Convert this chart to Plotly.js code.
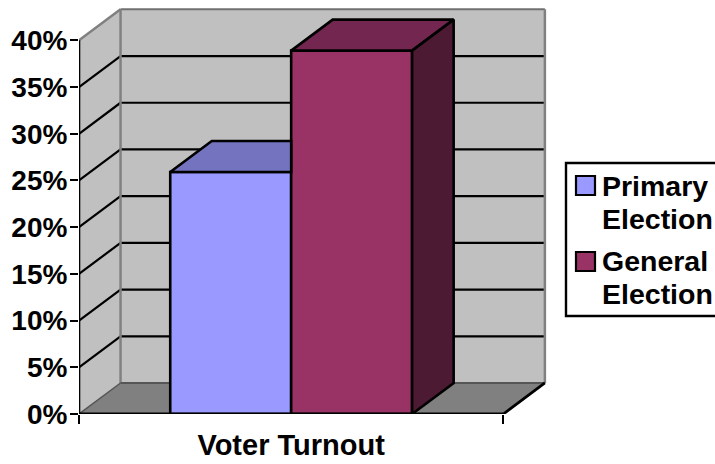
<!DOCTYPE html>
<html>
<head>
<meta charset="utf-8">
<script src="https://cdn.plot.ly/plotly-3.0.1.min.js"></script>
<style>html,body{margin:0;padding:0;background:#fff;overflow:hidden}</style>
</head>
<body>
<div id="chart" style="width:715px;height:464px"></div>
<script>
const categoryLabel = 'Voter Turnout';
const seriesNames = [['Primary', 'Election'], ['General', 'Election']];
const seriesColors = ['#9999ff', '#993366'];
const primaryTurnout = [25.9];
const generalTurnout = [38.9];
const yTickValues = [0, 5, 10, 15, 20, 25, 30, 35, 40];
const yTickLabels = ['0%', '5%', '10%', '15%', '20%', '25%', '30%', '35%', '40%'];

const FONT = '"Liberation Sans", Arial, sans-serif';
const W = 715, H = 464, mL = 79, mR = 715 - 547, mT = 7, mB = 50;
const L = -0.5, R = 0.5;            // front edge of the category axis
const DX = 0.0979, DY = 3.32;       // oblique depth in data units
const G = 0.57;                     // width of the bar group
const yTop = 40, padY = 0.25, padX = 0.005;
const T = '#c0c0c0', FLOOR = '#808080', EDGE = '#808080';
const px = v => (v - mL) / (W - mL - mR);
const py = v => (H - mB - v) / (H - mT - mB);

function seg(x0, y0, x1, y1, color, width) {
  return {type:'line', layer:'below', xref:'x', yref:'y', x0, y0, x1, y1, line:{color, width}};
}
function poly(pts, fill) {
  return {type:'path', layer:'below', xref:'x', yref:'y', fillcolor:fill, line:{width:0},
    path:'M' + pts.map(p => p[0] + ',' + p[1]).join('L') + 'Z'};
}
const shapes = [
  poly([[L,0],[L+DX,DY],[L+DX,yTop+DY],[L,yTop]], T),
  poly([[L+DX,DY],[R+DX,DY],[R+DX,yTop+DY],[L+DX,yTop+DY]], T),
  poly([[L,0],[L+DX,DY],[R+DX,DY],[R,0]], FLOOR)
];
yTickValues.slice(1, -1).forEach(v => {
  shapes.push(seg(L, v, L+DX, v+DY, '#000', 2.2));
  shapes.push(seg(L+DX, v+DY, R+DX, v+DY, '#000', 2.2));
});
shapes.push(seg(L, yTop, L+DX, yTop+DY, EDGE, 2.5));
shapes.push(seg(L+DX, yTop+DY, R+DX, yTop+DY, '#707070', 2));
shapes.push(seg(L+DX, DY, L+DX, yTop+DY, EDGE, 2.5));
shapes.push(seg(R+DX, DY, R+DX, yTop+DY, EDGE, 2.5));
shapes.push(seg(L+DX, DY, R+DX, DY, '#555', 2));
shapes.push(seg(L, 0, L+DX, DY, '#555', 1.5));

// legend frame and swatches
function paperRect(x0, y0, x1, y1, fill, width) {
  return {type:'rect', layer:'above', xref:'paper', yref:'paper',
    x0:px(x0), x1:px(x1), y0:py(y0), y1:py(y1), fillcolor:fill, line:{color:'#000', width}};
}
shapes.push(paperRect(566, 163, 725, 316, '#fff', 2.4));
const swatchTop = [176, 252], lineCenter = [[186, 219], [261, 294]];
const annotations = [];
seriesNames.forEach((lines, i) => {
  shapes.push(paperRect(576, swatchTop[i], 595, swatchTop[i] + 19, seriesColors[i], 2.2));
  lines.forEach((t, j) => annotations.push({
    xref:'paper', yref:'paper', x:px(602), y:py(lineCenter[i][j]), text:t, showarrow:false,
    xanchor:'left', yanchor:'middle', borderpad:0, borderwidth:0,
    font:{family:FONT, size:28.5, color:'#000', weight:'bold'}
  }));
});

function face(pts, fill) {
  return {type:'scatter', mode:'lines', x:pts.map(p=>p[0]), y:pts.map(p=>p[1]), fill:'toself',
    fillcolor:fill, line:{color:'#000', width:2.6}, showlegend:false, hoverinfo:'skip', cliponaxis:false};
}
const p = primaryTurnout[0], g = generalTurnout[0];
const traces = [
  {type:'bar', name:seriesNames[0].join(' '), x:[0], y:primaryTurnout, marker:{color:seriesColors[0], line:{color:'#000', width:2.6}}, hoverinfo:'y', showlegend:false},
  {type:'bar', name:seriesNames[1].join(' '), x:[0], y:generalTurnout, marker:{color:seriesColors[1], line:{color:'#000', width:2.6}}, hoverinfo:'y', showlegend:false},
  face([[-G/2,p],[-G/2+DX,p+DY],[0,p+DY],[0,p],[-G/2,p]], '#7373bf'),
  face([[0,g],[DX,g+DY],[G/2+DX,g+DY],[G/2,g],[0,g]], '#732650'),
  face([[G/2,g],[G/2+DX,g+DY],[G/2+DX,DY],[G/2,0],[G/2,g]], '#4d1a33'),
  {type:'scatter', mode:'lines', xaxis:'x2', x:[L,R,R+DX], y:[0,0,DY], line:{color:'#000', width:2.8},
    showlegend:false, hoverinfo:'skip', cliponaxis:false},
  {type:'scatter', mode:'lines', x:[L,L], y:[0,yTop], line:{color:'#000', width:2.6},
    showlegend:false, hoverinfo:'skip', cliponaxis:false}
];
const range = [L, R+DX+padX];
const layout = {
  width:W, height:H,
  margin:{l:mL, r:mR, t:mT, b:mB, pad:0, autoexpand:false},
  paper_bgcolor:'#fff', plot_bgcolor:'rgba(0,0,0,0)',
  barmode:'group', bargap:1-G, bargroupgap:0,
  font:{family:FONT, color:'#000', size:28},
  showlegend:false,
  xaxis:{type:'linear', range, tickvals:[0], ticktext:[categoryLabel], ticks:'outside', ticklen:5,
    tickcolor:'rgba(0,0,0,0)', showgrid:false, zeroline:false, showline:false,
    tickfont:{family:FONT, size:29, color:'#000', weight:'bold'}},
  xaxis2:{type:'linear', overlaying:'x', anchor:'y', side:'bottom', range, tickvals:[L,R], ticktext:['',''],
    ticks:'outside', ticklen:9, tickwidth:2.4, tickcolor:'#000', showgrid:false, zeroline:false, showline:false},
  yaxis:{type:'linear', range:[0, yTop+DY+padY], tickvals:yTickValues, ticktext:yTickLabels,
    ticks:'outside', ticklen:8, tickwidth:2.4, tickcolor:'#000', showgrid:false, zeroline:false, showline:false,
    ticklabelstandoff:-3,
    tickfont:{family:FONT, size:28, color:'#000', weight:'bold'}},
  shapes, annotations
};
Plotly.newPlot('chart', traces, layout, {displayModeBar:false});
</script>
</body>
</html>
